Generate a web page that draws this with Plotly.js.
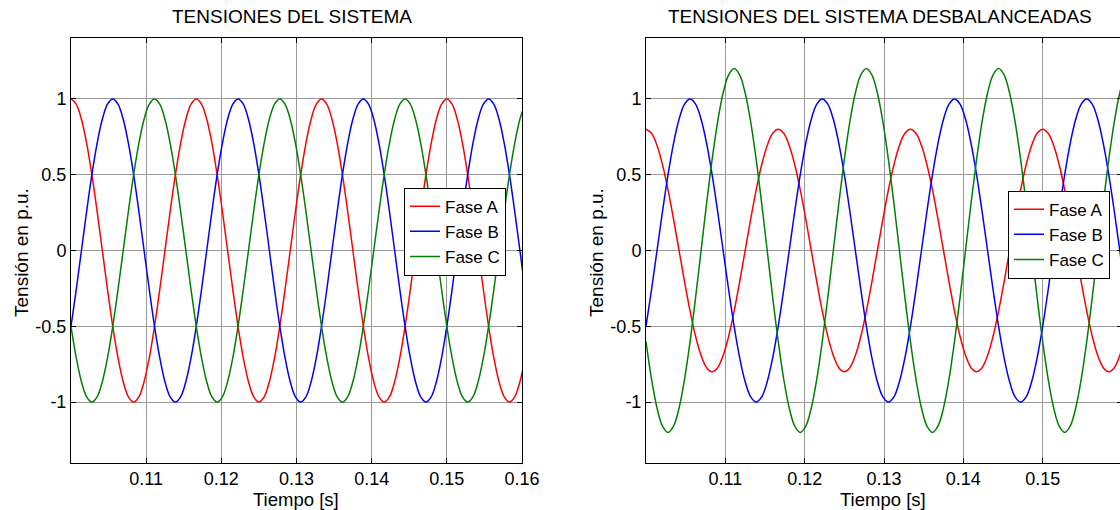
<!DOCTYPE html>
<html>
<head>
<meta charset="utf-8">
<script src="https://cdn.plot.ly/plotly-3.0.1.min.js"></script>
<style>
html, body { margin: 0; padding: 0; overflow: hidden; background: #fff; }
#chart { width: 1124px; height: 510px; }
</style>
</head>
<body>
<div id="chart"></div>
<script>
// Time samples [s]
const tiempo = [
  0.100000, 0.100694, 0.101389, 0.102083, 0.102778, 0.103472, 0.104167, 0.104861,
  0.105556, 0.106250, 0.106944, 0.107639, 0.108333, 0.109028, 0.109722, 0.110417,
  0.111111, 0.111806, 0.112500, 0.113194, 0.113889, 0.114583, 0.115278, 0.115972,
  0.116667, 0.117361, 0.118056, 0.118750, 0.119444, 0.120139, 0.120833, 0.121528,
  0.122222, 0.122917, 0.123611, 0.124306, 0.125000, 0.125694, 0.126389, 0.127083,
  0.127778, 0.128472, 0.129167, 0.129861, 0.130556, 0.131250, 0.131944, 0.132639,
  0.133333, 0.134028, 0.134722, 0.135417, 0.136111, 0.136806, 0.137500, 0.138194,
  0.138889, 0.139583, 0.140278, 0.140972, 0.141667, 0.142361, 0.143056, 0.143750,
  0.144444, 0.145139, 0.145833, 0.146528, 0.147222, 0.147917, 0.148611, 0.149306,
  0.150000, 0.150694, 0.151389, 0.152083, 0.152778, 0.153472, 0.154167, 0.154861,
  0.155556, 0.156250, 0.156944, 0.157639, 0.158333, 0.159028, 0.159722, 0.160417
];

// Balanced system (p.u.)
const faseA = [
  1, 0.966, 0.866, 0.707, 0.5, 0.259, 0, -0.259, -0.5, -0.707, -0.866, -0.966, -1, -0.966, -0.866, -0.707, -0.5, -0.259, 0, 0.259, 0.5, 0.707, 0.866, 0.966,
  1, 0.966, 0.866, 0.707, 0.5, 0.259, 0, -0.259, -0.5, -0.707, -0.866, -0.966, -1, -0.966, -0.866, -0.707, -0.5, -0.259, 0, 0.259, 0.5, 0.707, 0.866, 0.966,
  1, 0.966, 0.866, 0.707, 0.5, 0.259, 0, -0.259, -0.5, -0.707, -0.866, -0.966, -1, -0.966, -0.866, -0.707, -0.5, -0.259, 0, 0.259, 0.5, 0.707, 0.866, 0.966,
  1, 0.966, 0.866, 0.707, 0.5, 0.259, 0, -0.259, -0.5, -0.707, -0.866, -0.966, -1, -0.966, -0.866, -0.707
];
const faseB = [
  -0.5, -0.259, 0, 0.259, 0.5, 0.707, 0.866, 0.966,
  1, 0.966, 0.866, 0.707, 0.5, 0.259, 0, -0.259, -0.5, -0.707, -0.866, -0.966, -1, -0.966, -0.866, -0.707, -0.5, -0.259, 0, 0.259, 0.5, 0.707, 0.866, 0.966,
  1, 0.966, 0.866, 0.707, 0.5, 0.259, 0, -0.259, -0.5, -0.707, -0.866, -0.966, -1, -0.966, -0.866, -0.707, -0.5, -0.259, 0, 0.259, 0.5, 0.707, 0.866, 0.966,
  1, 0.966, 0.866, 0.707, 0.5, 0.259, 0, -0.259, -0.5, -0.707, -0.866, -0.966, -1, -0.966, -0.866, -0.707, -0.5, -0.259, 0, 0.259, 0.5, 0.707, 0.866, 0.966,
  1, 0.966, 0.866, 0.707, 0.5, 0.259, 0, -0.259
];
const faseC = [
  -0.5, -0.707, -0.866, -0.966, -1, -0.966, -0.866, -0.707, -0.5, -0.259, 0, 0.259, 0.5, 0.707, 0.866, 0.966,
  1, 0.966, 0.866, 0.707, 0.5, 0.259, 0, -0.259, -0.5, -0.707, -0.866, -0.966, -1, -0.966, -0.866, -0.707, -0.5, -0.259, 0, 0.259, 0.5, 0.707, 0.866, 0.966,
  1, 0.966, 0.866, 0.707, 0.5, 0.259, 0, -0.259, -0.5, -0.707, -0.866, -0.966, -1, -0.966, -0.866, -0.707, -0.5, -0.259, 0, 0.259, 0.5, 0.707, 0.866, 0.966,
  1, 0.966, 0.866, 0.707, 0.5, 0.259, 0, -0.259, -0.5, -0.707, -0.866, -0.966, -1, -0.966, -0.866, -0.707, -0.5, -0.259, 0, 0.259, 0.5, 0.707, 0.866, 0.966
];

// Unbalanced system (p.u.)
const desbA = [
  0.8, 0.773, 0.693, 0.566, 0.4, 0.207, 0, -0.207, -0.4, -0.566, -0.693, -0.773, -0.8, -0.773, -0.693, -0.566, -0.4, -0.207, 0, 0.207, 0.4, 0.566, 0.693, 0.773,
  0.8, 0.773, 0.693, 0.566, 0.4, 0.207, 0, -0.207, -0.4, -0.566, -0.693, -0.773, -0.8, -0.773, -0.693, -0.566, -0.4, -0.207, 0, 0.207, 0.4, 0.566, 0.693, 0.773,
  0.8, 0.773, 0.693, 0.566, 0.4, 0.207, 0, -0.207, -0.4, -0.566, -0.693, -0.773, -0.8, -0.773, -0.693, -0.566, -0.4, -0.207, 0, 0.207, 0.4, 0.566, 0.693, 0.773,
  0.8, 0.773, 0.693, 0.566, 0.4, 0.207, 0, -0.207, -0.4, -0.566, -0.693, -0.773, -0.8, -0.773, -0.693, -0.566
];
const desbB = [
  -0.5, -0.259, 0, 0.259, 0.5, 0.707, 0.866, 0.966,
  1, 0.966, 0.866, 0.707, 0.5, 0.259, 0, -0.259, -0.5, -0.707, -0.866, -0.966, -1, -0.966, -0.866, -0.707, -0.5, -0.259, 0, 0.259, 0.5, 0.707, 0.866, 0.966,
  1, 0.966, 0.866, 0.707, 0.5, 0.259, 0, -0.259, -0.5, -0.707, -0.866, -0.966, -1, -0.966, -0.866, -0.707, -0.5, -0.259, 0, 0.259, 0.5, 0.707, 0.866, 0.966,
  1, 0.966, 0.866, 0.707, 0.5, 0.259, 0, -0.259, -0.5, -0.707, -0.866, -0.966, -1, -0.966, -0.866, -0.707, -0.5, -0.259, 0, 0.259, 0.5, 0.707, 0.866, 0.966,
  1, 0.966, 0.866, 0.707, 0.5, 0.259, 0, -0.259
];
const desbC = [
  -0.6, -0.849, -1.039, -1.159, -1.2, -1.159, -1.039, -0.849, -0.6, -0.311, 0, 0.311, 0.6, 0.849, 1.039, 1.159,
  1.2, 1.159, 1.039, 0.849, 0.6, 0.311, 0, -0.311, -0.6, -0.849, -1.039, -1.159, -1.2, -1.159, -1.039, -0.849, -0.6, -0.311, 0, 0.311, 0.6, 0.849, 1.039, 1.159,
  1.2, 1.159, 1.039, 0.849, 0.6, 0.311, 0, -0.311, -0.6, -0.849, -1.039, -1.159, -1.2, -1.159, -1.039, -0.849, -0.6, -0.311, 0, 0.311, 0.6, 0.849, 1.039, 1.159,
  1.2, 1.159, 1.039, 0.849, 0.6, 0.311, 0, -0.311, -0.6, -0.849, -1.039, -1.159, -1.2, -1.159, -1.039, -0.849, -0.6, -0.311, 0, 0.311, 0.6, 0.849, 1.039, 1.159
];

const nombres = ['Fase A', 'Fase B', 'Fase C'];
const colores = ['#ff0000', '#0000ff', '#008000'];
const xTicksIzq = [0.11, 0.12, 0.13, 0.14, 0.15, 0.16];
const xTickTextIzq = ['0.11', '0.12', '0.13', '0.14', '0.15', '0.16'];
const xTicksDer = [0.11, 0.12, 0.13, 0.14, 0.15];
const xTickTextDer = ['0.11', '0.12', '0.13', '0.14', '0.15'];
const yTicks = [-1, -0.5, 0, 0.5, 1];
const yTickText = ['-1', '-0.5', '0', '0.5', '1'];
const titulos = ['TENSIONES DEL SISTEMA', 'TENSIONES DEL SISTEMA DESBALANCEADAS'];
const xLabel = 'Tiempo [s]';
const yLabel = 'Tensión en p.u.';

const FONT = 'Liberation Sans, Arial, Helvetica, sans-serif';
const W = 1124, H = 510;

const izq = [faseA, faseB, faseC];
const der = [desbA, desbB, desbC];
const traces = [];
izq.forEach((y, i) => traces.push({
  x: tiempo, y: y, type: 'scatter', mode: 'lines', name: nombres[i],
  line: {color: colores[i], width: 1.5, shape: 'spline', smoothing: 1},
  xaxis: 'x', yaxis: 'y', legend: 'legend', hoverinfo: 'skip'
}));
der.forEach((y, i) => traces.push({
  x: tiempo, y: y, type: 'scatter', mode: 'lines', name: nombres[i],
  line: {color: colores[i], width: 1.5, shape: 'spline', smoothing: 1},
  xaxis: 'x2', yaxis: 'y2', legend: 'legend2', hoverinfo: 'skip'
}));

const yDom = [(H - 462.7) / H, (H - 38.3) / H];
function xAxis(dom, tv, tt, anchor) {
  return {
    domain: dom, range: [0.1, 0.16], anchor: anchor,
    tickvals: tv, ticktext: tt, ticks: 'inside', ticklen: 5, tickwidth: 1, tickcolor: '#000',
    showline: true, linecolor: '#000', linewidth: 1, mirror: 'ticks',
    showgrid: true, gridcolor: '#999999', gridwidth: 1, zeroline: false,
    tickfont: {family: FONT, size: 18, color: '#000'}, fixedrange: true
  };
}
function yAxis(anchor) {
  return {
    domain: yDom, range: [-1.4, 1.4], anchor: anchor,
    tickvals: yTicks, ticktext: yTickText, ticks: 'inside', ticklen: 5, tickwidth: 1, tickcolor: '#000',
    showline: true, linecolor: '#000', linewidth: 1, mirror: 'ticks',
    showgrid: true, gridcolor: '#999999', gridwidth: 1, zeroline: false,
    tickfont: {family: FONT, size: 18, color: '#000'}, fixedrange: true
  };
}
const legendStyle = {
  bgcolor: '#ffffff', bordercolor: '#000', borderwidth: 1,
  font: {family: FONT, size: 17, color: '#000'},
  xanchor: 'right', yanchor: 'top', tracegroupgap: 0, itemclick: false
};

const ann = (text, x, y, extra) => Object.assign({
  text: text, xref: 'paper', yref: 'paper', x: x / W, y: (H - y) / H,
  xanchor: 'center', yanchor: 'middle', showarrow: false,
  font: {family: FONT, size: 19, color: '#000'}
}, extra || {});

const layout = {
  width: W, height: H, margin: {l: 0, r: 0, t: 0, b: 0},
  paper_bgcolor: '#fff', plot_bgcolor: '#fff', showlegend: true,
  xaxis: xAxis([71 / W, 522 / W], xTicksIzq, xTickTextIzq, 'y'),
  yaxis: yAxis('x'),
  xaxis2: xAxis([646 / W, 1122 / W], xTicksDer, xTickTextDer, 'y2'),
  yaxis2: yAxis('x2'),
  legend: Object.assign({x: 506 / W, y: (H - 187.7) / H}, legendStyle),
  legend2: Object.assign({x: 1110 / W, y: (H - 190.7) / H}, legendStyle),
  annotations: [
    ann(titulos[0], 292, 16),
    ann(titulos[1], 880, 16),
    ann(xLabel, 296, 499.5, {font: {family: FONT, size: 18.5, color: '#000'}}),
    ann(xLabel, 883, 499.5, {font: {family: FONT, size: 18.5, color: '#000'}}),
    ann(yLabel, 21, 253, {textangle: -90}),
    ann(yLabel, 596, 253, {textangle: -90})
  ]
};

Plotly.newPlot('chart', traces, layout, {displayModeBar: false, staticPlot: true});
</script>
</body>
</html>
